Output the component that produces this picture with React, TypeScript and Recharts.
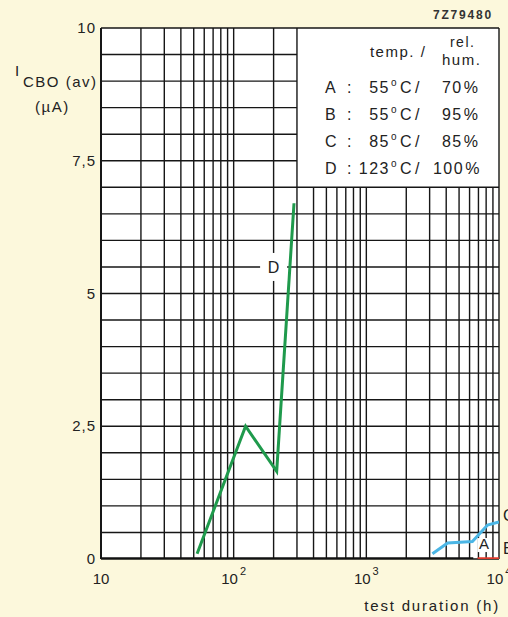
import React from 'react';
import {
  LineChart,
  Line,
  XAxis,
  YAxis,
  CartesianGrid,
  ReferenceArea,
  ReferenceDot,
  ReferenceLine
} from 'recharts';

// log grid: 2..9 per decade
const xTicks = [
  10, 20, 30, 40, 50, 60, 70, 80, 90,
  100, 200, 300, 400, 500, 600, 700, 800, 900,
  1000, 2000, 3000, 4000, 5000, 6000, 7000, 8000, 9000,
  10000
];
const decadeTicks = [10, 100, 1000, 10000];
const decadeExponents = ['', '2', '3', '4'];

const yTicks = [0, 0.5, 1, 1.5, 2, 2.5, 3, 3.5, 4, 4.5, 5, 5.5, 6, 6.5, 7, 7.5, 8, 8.5, 9, 9.5, 10];
const yLabelValues = [0, 2.5, 5, 7.5, 10];
const yLabelTexts = ['0', '2,5', '5', '7,5', '10'];

// legend box corner (hours, µA): grid stops here
const boxHours = 300;
const boxCurrent = 7;

// D : 123 °C / 100 %
const dHours = [53, 123, 211, 285];
const dCurrent = [0.1, 2.5, 1.65, 6.7];
// C : 85 °C / 85 %
const cHours = [3150, 4100, 6300, 8200, 10000];
const cCurrent = [0.1, 0.3, 0.33, 0.64, 0.7];
// A : 55 °C / 70 %
const aHours = [6900, 10000];
const aCurrent = [0, 0];
// B : 55 °C / 95 %
const bHours = [10, 6400];
const bCurrent = [0, 0];

const legendKeys = ['A', 'B', 'C', 'D'];
const legendTemps = ['55', '55', '85', '123'];
const legendHums = ['70', '95', '85', '100'];

const INK = '#222';
const GRID = '#161616';
const FONT = '"Liberation Sans", Arial, sans-serif';
const PAPER = '#fcf8dc';

const toSeries = (hours: number[], current: number[]) =>
  hours.map((h, i) => ({ hours: h, current: current[i] }));

function XTick({ x, y, payload }: any) {
  const i = decadeTicks.indexOf(payload.value);
  if (i < 0) return null;
  const exp = decadeExponents[i];
  return (
    <text x={x} y={y + 25} textAnchor="middle" fill={INK} fontSize={15} fontFamily={FONT}>
      10
      {exp && (
        <tspan dx={2} dy={-9} fontSize={11}>
          {exp}
        </tspan>
      )}
    </text>
  );
}

function YTick({ x, y, payload }: any) {
  const i = yLabelValues.indexOf(payload.value);
  if (i < 0) return null;
  return (
    <text x={x - 5} y={y + 5} textAnchor="end" fill={INK} fontSize={15} fontFamily={FONT} letterSpacing={1}>
      {yLabelTexts[i]}
    </text>
  );
}

function YTitle({ viewBox }: any) {
  const x0 = viewBox.x;
  return (
    <g fill={INK} fontFamily={FONT} fontSize={15}>
      <text x={x0 + 15} y={76}>I</text>
      <text x={x0 + 23} y={87} letterSpacing={1.5}>CBO (av)</text>
      <text x={x0 + 35} y={112} letterSpacing={1.5}>(µA)</text>
    </g>
  );
}

function XTitle({ viewBox }: any) {
  return (
    <text
      x={viewBox.x + viewBox.width + 1}
      y={611}
      textAnchor="end"
      fill={INK}
      fontFamily={FONT}
      fontSize={15}
      letterSpacing={1.8}
    >
      test duration  (h)
    </text>
  );
}

function LegendBox({ viewBox }: any) {
  const { x, y } = viewBox;
  const base = { fill: INK, fontFamily: FONT, fontSize: 16, letterSpacing: 1.5 };
  return (
    <g>
      <text {...base} x={x + 73} y={y + 29} fontSize={15}>temp. /</text>
      <text {...base} x={x + 153} y={y + 19} fontSize={14}>rel.</text>
      <text {...base} x={x + 145} y={y + 37} fontSize={15}>hum.</text>
      {legendKeys.map((k, i) => {
        const by = y + 65 + i * 27;
        const hx = legendHums[i].length > 2 ? x + 136 : x + 145;
        return (
          <g key={k}>
            <text {...base} x={x + 28} y={by}>{k}</text>
            <text {...base} x={x + 50} y={by}>:</text>
            <text {...base} x={x + 93} y={by} textAnchor="end">{legendTemps[i]}</text>
            <text {...base} x={x + 94} y={by - 7} fontSize={10}>o</text>
            <text {...base} x={x + 103} y={by}>C</text>
            <text {...base} x={x + 118} y={by}>/</text>
            <text {...base} x={hx} y={by}>
              {legendHums[i]}
              <tspan dx={1}>%</tspan>
            </text>
          </g>
        );
      })}
    </g>
  );
}

const boxedLetter = (letter: string, w: number, top: number, bottom: number, size: number) => (props: any) => {
  const { cx, cy } = props;
  return (
    <g>
      <rect x={cx - w / 2} y={cy - top} width={w} height={top + bottom} fill="#fff" />
      <text x={cx} y={cy + size * 0.4} textAnchor="middle" fill={INK} fontFamily={FONT} fontSize={size}>
        {letter}
      </text>
    </g>
  );
};

const sideLetter = (letter: string) => (props: any) => {
  const { cx, cy } = props;
  return (
    <text x={cx + 4} y={cy + 6} fill={INK} fontFamily={FONT} fontSize={16}>
      {letter}
    </text>
  );
};

export default function App() {
  const xMax = xTicks[xTicks.length - 1];
  const yMax = yTicks[yTicks.length - 1];
  return (
    <div style={{ position: 'relative', width: 508, height: 617, background: PAPER, overflow: 'hidden' }}>
      <style>{'body{margin:0}'}</style>
      <div
        style={{
          position: 'absolute',
          left: 433,
          top: 8,
          fontFamily: FONT,
          fontWeight: 'bold',
          fontSize: 12,
          letterSpacing: 1.8,
          color: '#333'
        }}
      >
        7Z79480
      </div>
      <LineChart width={508} height={617} margin={{ top: 28, right: 9, bottom: 0, left: 0 }}>
        <CartesianGrid horizontal={false} vertical={false} fill="#fff" />
        <XAxis
          type="number"
          dataKey="hours"
          scale="log"
          domain={[10, 10000]}
          allowDataOverflow
          ticks={xTicks}
          interval={0}
          height={58}
          tickSize={0}
          tickMargin={0}
          tickLine={false}
          axisLine={false}
          tick={<XTick />}
          label={<XTitle />}
        />
        <YAxis
          type="number"
          dataKey="current"
          domain={[0, 10]}
          allowDataOverflow
          ticks={yTicks}
          interval={0}
          width={101}
          tickSize={0}
          tickMargin={0}
          tickLine={false}
          axisLine={{ stroke: GRID, strokeWidth: 2 }}
          tick={<YTick />}
          label={<YTitle />}
        />
        <ReferenceArea
          x1={boxHours}
          x2={xMax}
          y1={boxCurrent}
          y2={yMax}
          fill="#fff"
          fillOpacity={1}
          label={<LegendBox />}
        />
        {xTicks.map((t) =>
          t > boxHours && t < xMax ? (
            <ReferenceLine
              key={`vx${t}`}
              segment={[{ x: t, y: 0 }, { x: t, y: boxCurrent }]}
              stroke={GRID}
              strokeWidth={1.4}
            />
          ) : (
            <ReferenceLine key={`vx${t}`} x={t} stroke={GRID} strokeWidth={1.4} />
          )
        )}
        {yTicks.map((t) =>
          t > boxCurrent && t < yMax ? (
            <ReferenceLine
              key={`hy${t}`}
              segment={[{ x: 10, y: t }, { x: boxHours, y: t }]}
              stroke={GRID}
              strokeWidth={1.4}
            />
          ) : (
            <ReferenceLine key={`hy${t}`} y={t} stroke={GRID} strokeWidth={1.4} />
          )
        )}
        <ReferenceDot x={200} y={5.5} r={0} shape={boxedLetter('D', 27, 14, 14, 16)} />
        <ReferenceDot x={7700} y={0.3} r={0} shape={boxedLetter('A', 13, 5, 9, 15)} />
        <ReferenceDot x={10000} y={0.83} r={0} shape={sideLetter('C')} />
        <ReferenceDot x={10000} y={0.2} r={0} shape={sideLetter('B')} />
        <Line
          data={toSeries(bHours, bCurrent)}
          dataKey="current"
          stroke="#111"
          strokeWidth={3.5}
          dot={false}
          isAnimationActive={false}
        />
        <Line
          data={toSeries(aHours, aCurrent)}
          dataKey="current"
          stroke="#e23a2c"
          strokeWidth={3.5}
          dot={false}
          isAnimationActive={false}
        />
        <Line
          data={toSeries(cHours, cCurrent)}
          dataKey="current"
          stroke="#4bb6e6"
          strokeWidth={3}
          dot={false}
          isAnimationActive={false}
        />
        <Line
          data={toSeries(dHours, dCurrent)}
          dataKey="current"
          stroke="#1f9a4c"
          strokeWidth={3}
          dot={false}
          isAnimationActive={false}
        />
      </LineChart>
    </div>
  );
}
